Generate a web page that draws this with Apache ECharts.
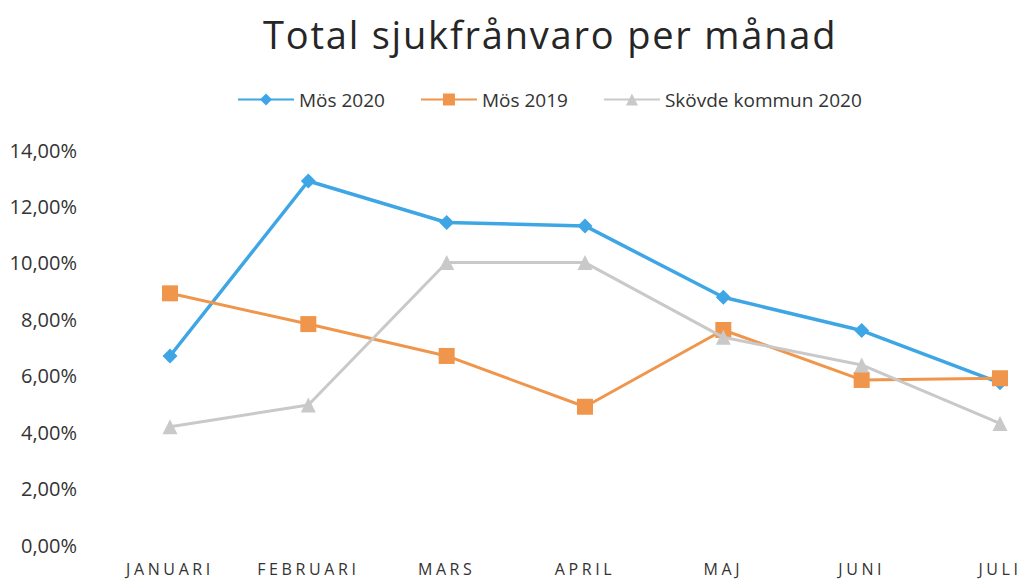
<!DOCTYPE html>
<html>
<head>
<meta charset="utf-8">
<script src="https://cdn.jsdelivr.net/npm/echarts@6/dist/echarts.min.js"></script>
<style>
  html, body { margin: 0; padding: 0; background: #fff; }
  #main { width: 1021px; height: 579px; }
  /* spärrad text som i originalet */
  #main text[style*="38px"] { letter-spacing: 1.8px; }
  #main text[style*="16px"] { letter-spacing: 3.6px; }
</style>
</head>
<body>
<div id="main"></div>
<script>
// månader
var months = ["JANUARI", "FEBRUARI", "MARS", "APRIL", "MAJ", "JUNI", "JULI"];
// sjukfrånvaro i procent
var mos2020 = [6.70, 12.90, 11.43, 11.31, 8.78, 7.60, 5.75];
var mos2019 = [8.92, 7.83, 6.70, 4.90, 7.62, 5.85, 5.91];
var skovde2020 = [4.19, 4.96, 10.01, 10.01, 7.36, 6.38, 4.31];
var seriesNames = ["Mös 2020", "Mös 2019", "Skövde kommun 2020"];

var myChart = echarts.init(document.getElementById("main"), null, { renderer: "svg" });

function fmt(v) {
  return v.toFixed(2).replace(".", ",") + "%";
}

var option = {
  backgroundColor: "#fff",
  title: {
    text: "Total sjukfrånvaro per månad",
    left: 258,
    top: 10,
    textStyle: {
      fontFamily: "Open Sans",
      fontSize: 38,
      fontWeight: "normal",
      color: "#262626"
    }
  },
  legend: {
    top: 85,
    left: 232,
    itemWidth: 56,
    itemHeight: 15,
    itemGap: 35,
    textStyle: {
      fontFamily: "Open Sans",
      fontSize: 19,
      color: "#333"
    },
    data: seriesNames
  },
  grid: {
    left: 170,
    right: 21,
    top: 150,
    bottom: 34
  },
  xAxis: {
    type: "category",
    boundaryGap: false,
    data: months,
    axisLine: { show: false },
    axisTick: { show: false },
    axisLabel: {
      margin: 16,
      fontFamily: "Open Sans",
      fontSize: 16,
      color: "#333"
    }
  },
  yAxis: {
    type: "value",
    min: 0,
    max: 14,
    interval: 2,
    axisLine: { show: false },
    axisTick: { show: false },
    splitLine: { show: false },
    axisLabel: {
      margin: 93,
      fontFamily: "Open Sans",
      fontSize: 20,
      color: "#333",
      formatter: fmt
    }
  },
  series: [
    {
      name: seriesNames[0],
      type: "line",
      data: mos2020,
      symbol: "diamond",
      symbolSize: 15,
      lineStyle: { width: 3.5, color: "#3fa6e6" },
      itemStyle: { color: "#3fa6e6" },
      z: 1
    },
    {
      name: seriesNames[1],
      type: "line",
      data: mos2019,
      symbol: "rect",
      symbolSize: 16,
      lineStyle: { width: 3, color: "#f0964c" },
      itemStyle: { color: "#f0964c" },
      z: 3
    },
    {
      name: seriesNames[2],
      type: "line",
      data: skovde2020,
      symbol: "triangle",
      symbolSize: 15,
      lineStyle: { width: 3, color: "#c9c9c9" },
      itemStyle: { color: "#c9c9c9" },
      z: 4
    }
  ]
};

myChart.setOption(option);
</script>
</body>
</html>
